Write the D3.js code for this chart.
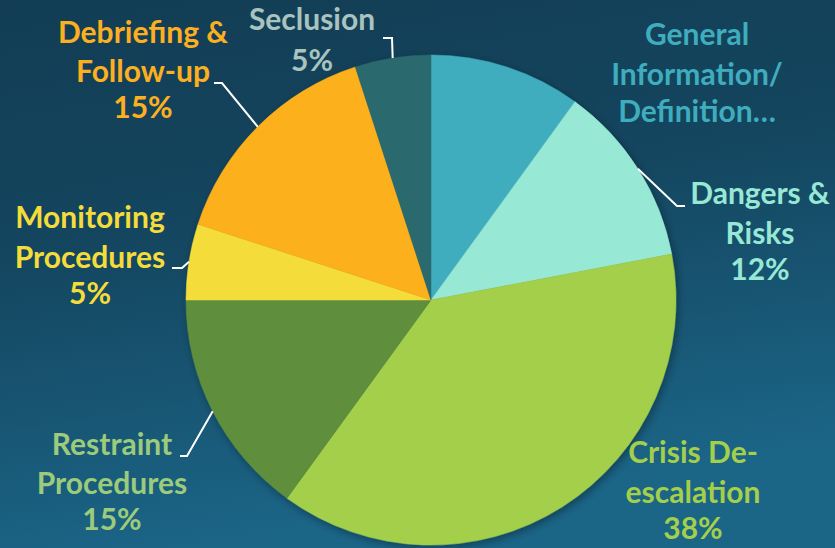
<!DOCTYPE html>
<html>
<head>
<meta charset="utf-8">
<script src="https://cdn.jsdelivr.net/npm/d3@7"></script>
<style>
  html, body { margin: 0; padding: 0; }
  body { width: 835px; height: 548px; overflow: hidden; }
  text { font-family: Lato, "Open Sans", sans-serif; font-weight: 700; }
</style>
</head>
<body>
<div id="chart"></div>
<script>
// data, clockwise from 12 o'clock
const categories = ["General Information/ Definition…", "Dangers & Risks", "Crisis De-escalation",
    "Restraint Procedures", "Monitoring Procedures", "Debriefing & Follow-up", "Seclusion"]
const values = [10, 12, 38, 15, 5, 15, 5]
const labelLines = [
    ["General", "Information/", "Definition…"],
    ["Dangers &", "Risks", "12%"],
    ["Crisis De-", "escalation", "38%"],
    ["Restraint", "Procedures", "15%"],
    ["Monitoring", "Procedures", "5%"],
    ["Debriefing &", "Follow-up", "15%"],
    ["Seclusion", "5%"]
]

const sliceColors = ["#3fadbe", "#98e8d6", "#a3cf4b", "#5e8f3c", "#f4dc3a", "#fcb01f", "#2a6a6e"]
const textColors = ["#3fadbe", "#98e8d6", "#a3cf4b", "#9ccb7c", "#f4dc3a", "#fcb01f", "#a9c3bf"]

// label layout: text centre x, first baseline y, line gaps; elbow + end of leader (null = none)
const labelLayout = [
    { x: 697, y: 45, gaps: [40, 37], leader: null },
    { x: 760, y: 204, gaps: [40, 36], leader: [[677, 206], [685, 206]] },
    { x: 693, y: 463, gaps: [40, 36], leader: null },
    { x: 112, y: 455, gaps: [39, 36], leader: [[187, 456], [180, 456]] },
    { x: 90, y: 228, gaps: [40, 36], leader: [[182, 268], [172, 268]] },
    { x: 143, y: 43, gaps: [39, 36], leader: [[222, 83], [214, 83]] },
    { x: 312, y: 30, gaps: [41], leader: [[392, 38], [383, 38]] }
]

const width = 835, height = 548
const cx = 431, cy = 300, radius = 245

const svg = d3.select("#chart").append("svg")
    .attr("width", width)
    .attr("height", height)

const defs = svg.append("defs")
const bg = defs.append("linearGradient")
    .attr("id", "bg")
    .attr("x1", "0").attr("y1", "0")
    .attr("x2", "0.25").attr("y2", "1")
bg.append("stop").attr("offset", "0%").attr("stop-color", "#123d54")
bg.append("stop").attr("offset", "45%").attr("stop-color", "#14465f")
bg.append("stop").attr("offset", "100%").attr("stop-color", "#1b6587")

const shadow = defs.append("filter").attr("id", "shadow")
    .attr("x", "-10%").attr("y", "-10%").attr("width", "120%").attr("height", "120%")
shadow.append("feDropShadow")
    .attr("dx", 2).attr("dy", 3).attr("stdDeviation", 4)
    .attr("flood-color", "#000").attr("flood-opacity", 0.35)

svg.append("rect")
    .attr("width", width)
    .attr("height", height)
    .attr("fill", "url(#bg)")

const pie = d3.pie().sort(null).value(d => d)
const arcs = pie(values)
const arc = d3.arc().innerRadius(0).outerRadius(radius)

// Draw slices
svg.append("g")
    .attr("transform", `translate(${cx},${cy})`)
    .attr("filter", "url(#shadow)")
    .selectAll("path")
    .data(arcs)
    .join("path")
    .attr("d", arc)
    .attr("fill", (d, i) => sliceColors[i])
    .attr("stroke", (d, i) => sliceColors[i])
    .attr("stroke-width", 0.5)

// Leader lines, starting on the rim at the slice's mid angle
const rimPoint = d => {
    const a = (d.startAngle + d.endAngle) / 2
    return [cx + radius * Math.sin(a), cy - radius * Math.cos(a)]
}

svg.append("g")
    .selectAll("polyline")
    .data(arcs.filter((d, i) => labelLayout[i].leader))
    .join("polyline")
    .attr("points", d => [rimPoint(d), ...labelLayout[d.index].leader].map(p => p.join(",")).join(" "))
    .attr("fill", "none")
    .attr("stroke", "#ffffff")
    .attr("stroke-width", 2)

// Labels
const labels = svg.append("g")
    .selectAll("text")
    .data(arcs)
    .join("text")
    .attr("x", (d, i) => labelLayout[i].x)
    .attr("y", (d, i) => labelLayout[i].y)
    .attr("text-anchor", "middle")
    .attr("font-size", 30)
    .attr("fill", (d, i) => textColors[i])

labels.selectAll("tspan")
    .data((d, i) => labelLines[i].map((t, j) => ({ t, j, i })))
    .join("tspan")
    .attr("x", d => labelLayout[d.i].x)
    .attr("dy", d => d.j === 0 ? 0 : labelLayout[d.i].gaps[d.j - 1])
    .text(d => d.t)
</script>
</body>
</html>
